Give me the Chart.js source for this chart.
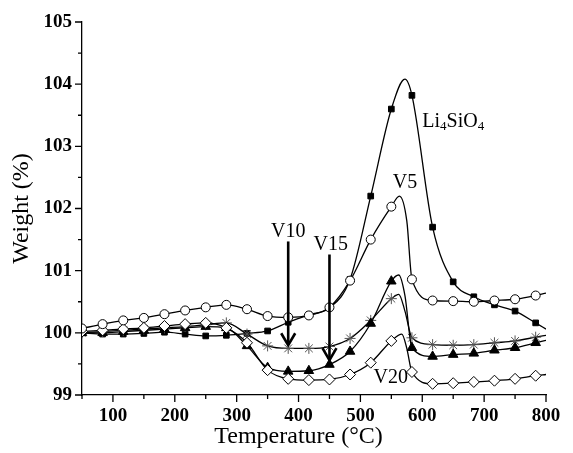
<!DOCTYPE html>
<html>
<head>
<meta charset="utf-8">
<script src="https://cdn.jsdelivr.net/npm/chart.js@4"></script>
<style>
  html, body { margin: 0; padding: 0; background: #fff; }
  #wrap { width: 573px; height: 453px; }
</style>
</head>
<body>
<div id="wrap"><canvas id="tgaChart"></canvas></div>
<script>
// sample temperatures (°C) where the markers sit
const temps = [50, 83.3, 116.7, 150, 183.3, 216.7, 250, 283.3, 316.7, 350, 383.3, 416.7,
  450, 483.3, 516.7, 550, 583.3, 616.7, 650, 683.3, 716.7, 750, 783.3];

// weight (%) at each marker
const li4sio4 = [100.00, 99.98, 99.98, 99.99, 100.01, 99.98, 99.95, 99.96, 99.99, 100.03, 100.17, 100.29,
  100.40, 100.86, 102.20, 103.60, 103.82, 101.70, 100.82, 100.58, 100.45, 100.35, 100.16];
const v5 = [100.07, 100.14, 100.20, 100.24, 100.30, 100.36, 100.41, 100.45, 100.38, 100.27, 100.25, 100.28,
  100.41, 100.84, 101.50, 102.03, 100.86, 100.52, 100.51, 100.50, 100.52, 100.54, 100.60];
const v10 = [100.00, 100.02, 100.04, 100.06, 100.08, 100.10, 100.13, 100.16, 99.98, 99.79, 99.75, 99.75,
  99.78, 99.91, 100.20, 100.55, 99.92, 99.81, 99.80, 99.81, 99.84, 99.87, 99.93];
const v15 = [100.00, 100.00, 100.02, 100.04, 100.06, 100.08, 100.10, 100.08, 99.79, 99.44, 99.38, 99.39,
  99.49, 99.70, 100.15, 100.83, 99.76, 99.62, 99.65, 99.67, 99.72, 99.76, 99.84];
const v20 = [100.02, 100.04, 100.06, 100.08, 100.11, 100.14, 100.16, 100.08, 99.84, 99.40, 99.26, 99.24,
  99.25, 99.33, 99.52, 99.87, 99.37, 99.18, 99.19, 99.21, 99.23, 99.26, 99.31];

// curve points without a marker (peaks, steep drops, end of run), [temp, weight]
const li4sio4Curve = [[572, 104.08], [800, 100.06]];
const v5Curve = [[563, 102.20], [575, 101.80], [800, 100.64]];
const v10Curve = [[562, 100.62], [572, 100.35], [800, 99.96]];
const v15Curve = [[562, 100.93], [572, 100.60], [800, 99.88]];
const v20Curve = [[567, 99.98], [575, 99.75], [800, 99.33]];

const xTicks = [100, 200, 300, 400, 500, 600, 700, 800];
const yTicks = [99, 100, 101, 102, 103, 104, 105];

const xTitle = 'Temperature (°C)';
const yTitle = 'Weight (%)';

const serif = '"Liberation Serif", "Times New Roman", serif';

function buildSeries(values, extra) {
  let pts = temps.map((t, i) => ({ x: t, y: values[i], m: true }));
  extra.forEach(p => pts.push({ x: p[0], y: p[1], m: false }));
  pts.sort((a, b) => a.x - b.x);
  return pts;
}

function makeDataset(label, values, extra, style) {
  const pts = buildSeries(values, extra);
  return {
    label: label,
    data: pts,
    borderColor: '#000',
    borderWidth: 1.3,
    cubicInterpolationMode: 'monotone',
    pointStyle: style.shape,
    pointRadius: pts.map(p => p.m ? style.r : 0),
    pointBackgroundColor: style.fill,
    pointBorderColor: style.stroke,
    pointBorderWidth: style.bw,
    order: style.order
  };
}

// text labels and arrows on the plot, in data units
const notes = [
  { text: 'V5', t: 572, v: 102.42 },
  { text: 'V10', t: 383.3, v: 101.63 },
  { text: 'V15', t: 452, v: 101.41 },
  { text: 'V20', t: 549, v: 99.28 }
];
const arrows = [
  { t: 383.3, from: 101.47, to: 99.80 },
  { t: 450, from: 101.26, to: 99.56 }
];

const annotatePlugin = {
  id: 'annotate',
  afterDatasetsDraw(chart) {
    const ctx = chart.ctx;
    const xs = chart.scales.x, ys = chart.scales.y;
    ctx.save();
    ctx.fillStyle = '#000';
    ctx.strokeStyle = '#000';
    ctx.textBaseline = 'middle';
    ctx.textAlign = 'center';
    ctx.font = '20px ' + serif;
    notes.forEach(n => ctx.fillText(n.text, xs.getPixelForValue(n.t), ys.getPixelForValue(n.v)));

    // Li4SiO4 with subscripts
    let x = xs.getPixelForValue(600), y = ys.getPixelForValue(103.4);
    ctx.textAlign = 'left';
    [['Li', false], ['4', true], ['SiO', false], ['4', true]].forEach(([s, sub]) => {
      ctx.font = (sub ? '13px ' : '20px ') + serif;
      ctx.fillText(s, x, sub ? y + 5 : y);
      x += ctx.measureText(s).width;
    });

    ctx.lineWidth = 2.6;
    arrows.forEach(a => {
      const ax = xs.getPixelForValue(a.t);
      const y0 = ys.getPixelForValue(a.from), y1 = ys.getPixelForValue(a.to);
      ctx.beginPath();
      ctx.moveTo(ax, y0);
      ctx.lineTo(ax, y1 - 1);
      ctx.stroke();
      ctx.beginPath();
      ctx.moveTo(ax - 7, y1 - 12);
      ctx.lineTo(ax, y1);
      ctx.lineTo(ax + 7, y1 - 12);
      ctx.stroke();
    });
    ctx.restore();
  },
  afterDraw(chart) {
    const ctx = chart.ctx;
    const xs = chart.scales.x, ys = chart.scales.y;
    const area = chart.chartArea;
    ctx.save();
    // major and minor tick marks on both axes
    ctx.strokeStyle = '#000';
    ctx.lineWidth = 1.3;
    ctx.beginPath();
    xs.ticks.forEach(tk => {
      const px = xs.getPixelForValue(tk.value);
      const len = xTicks.includes(tk.value) ? 7 : 4;
      ctx.moveTo(px, area.bottom);
      ctx.lineTo(px, area.bottom + len);
    });
    ys.ticks.forEach(tk => {
      const py = ys.getPixelForValue(tk.value);
      const len = yTicks.includes(tk.value) ? 7 : 4;
      ctx.moveTo(area.left, py);
      ctx.lineTo(area.left - len, py);
    });
    ctx.stroke();

    // axis titles (the x title sits under the 400 tick in the original)
    ctx.fillStyle = '#000';
    ctx.font = '24px ' + serif;
    ctx.textAlign = 'center';
    ctx.textBaseline = 'alphabetic';
    ctx.fillText(xTitle, xs.getPixelForValue(400), 443);
    ctx.translate(22, (area.top + area.bottom) / 2);
    ctx.rotate(-Math.PI / 2);
    ctx.textBaseline = 'middle';
    ctx.fillText(yTitle, 0, 0);
    ctx.restore();
  }
};

const ctx = document.getElementById('tgaChart').getContext('2d');
const tgaChart = new Chart(ctx, {
  type: 'line',
  data: {
    datasets: [
      makeDataset('V5', v5, v5Curve, { shape: 'circle', r: 4.5, fill: '#fff', stroke: '#000', bw: 1, order: 1 }),
      makeDataset('V20', v20, v20Curve, { shape: 'rectRot', r: 5.5, fill: '#fff', stroke: '#000', bw: 1, order: 2 }),
      makeDataset('V15', v15, v15Curve, { shape: 'triangle', r: 5.5, fill: '#000', stroke: '#000', bw: 1, order: 3 }),
      makeDataset('V10', v10, v10Curve, { shape: 'star', r: 5.5, fill: '#555', stroke: '#555', bw: 1, order: 4 }),
      makeDataset('Li4SiO4', li4sio4, li4sio4Curve, { shape: 'rect', r: 4, fill: '#000', stroke: '#000', bw: 1, order: 5 })
    ]
  },
  options: {
    responsive: true,
    maintainAspectRatio: false,
    animation: false,
    layout: { padding: { top: 22, right: 27, left: 0, bottom: 0 } },
    plugins: { legend: { display: false }, tooltip: { enabled: false } },
    scales: {
      x: {
        type: 'linear',
        min: 50,
        max: 800,
        afterFit: scale => { scale.height = 58; },
        border: { display: true, color: '#000', width: 1.3 },
        grid: { drawOnChartArea: false, drawTicks: true, tickLength: 7, tickColor: 'rgba(0,0,0,0)' },
        ticks: {
          stepSize: 50,
          autoSkip: false,
          maxRotation: 0,
          padding: 3,
          color: '#000',
          font: { family: serif, size: 19, weight: 'bold' },
          callback: v => xTicks.includes(v) ? String(v) : ''
        }
      },
      y: {
        min: 99,
        max: 105,
        afterFit: scale => { scale.width = 82; },
        border: { display: true, color: '#000', width: 1.3 },
        grid: { drawOnChartArea: false, drawTicks: true, tickLength: 7, tickColor: 'rgba(0,0,0,0)' },
        ticks: {
          stepSize: 0.5,
          autoSkip: false,
          padding: 3,
          color: '#000',
          font: { family: serif, size: 19, weight: 'bold' },
          callback: v => yTicks.includes(v) ? String(v) : ''
        }
      }
    }
  },
  plugins: [annotatePlugin]
});
</script>
</body>
</html>
